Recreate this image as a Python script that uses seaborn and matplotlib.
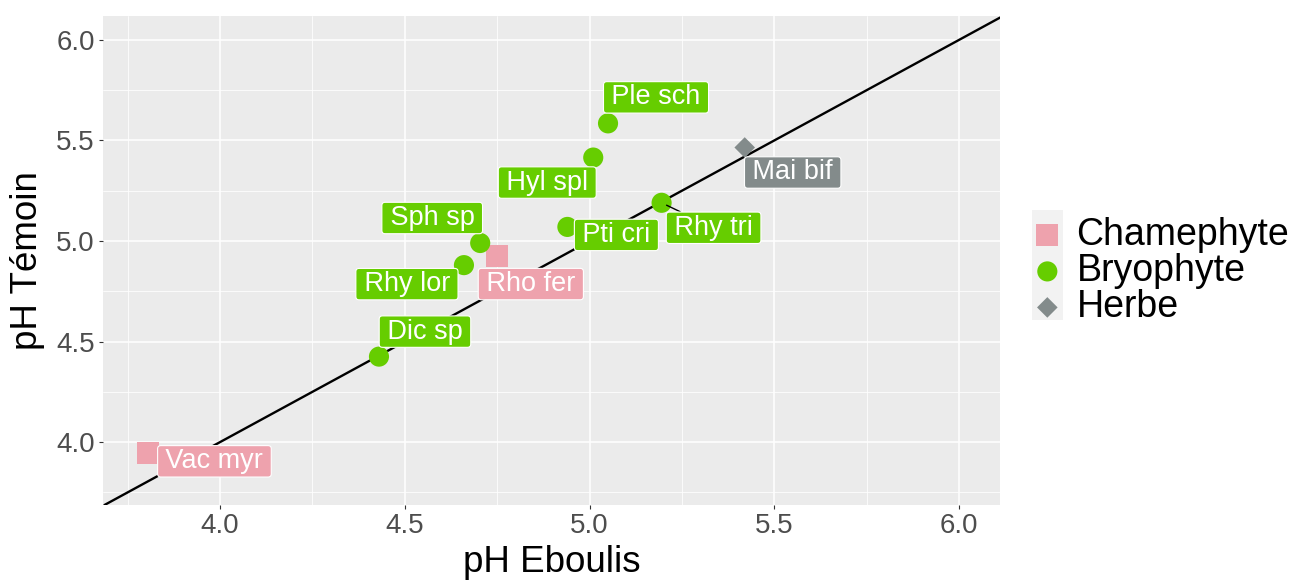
import numpy as np
import pandas as pd
import matplotlib
matplotlib.use("Agg")
import matplotlib.pyplot as plt
import matplotlib.patches as patches
from matplotlib.ticker import MultipleLocator
import seaborn as sns

# data
species = ["Vac myr", "Rho fer", "Dic sp", "Rhy lor", "Sph sp", "Pti cri",
           "Hyl spl", "Ple sch", "Rhy tri", "Mai bif"]
groups = ["Chamephyte", "Chamephyte", "Bryophyte", "Bryophyte", "Bryophyte",
          "Bryophyte", "Bryophyte", "Bryophyte", "Bryophyte", "Herbe"]
ph_eboulis = [3.806, 4.749, 4.430, 4.660, 4.704, 4.940, 5.010, 5.050, 5.195, 5.420]
ph_temoin = [3.944, 4.925, 4.425, 4.880, 4.990, 5.070, 5.415, 5.585, 5.190, 5.465]

df = pd.DataFrame({"species": species, "group": groups,
                   "x": ph_eboulis, "y": ph_temoin})

# styling / layout
colors = {"Chamephyte": "#EEA2AD", "Bryophyte": "#66CD00", "Herbe": "#838B8B"}
markers = {"Chamephyte": "s", "Bryophyte": "o", "Herbe": "D"}
sizes = {"Chamephyte": 250, "Bryophyte": 210, "Herbe": 110}
# label offsets in pixels (repel-like placement)
label_offsets = {"Vac myr": (66, -8), "Rho fer": (34, -28), "Dic sp": (46, 25),
                 "Rhy lor": (-57, -19), "Sph sp": (-48, 25), "Pti cri": (49, -8),
                 "Hyl spl": (-46, -25), "Ple sch": (48, 26), "Rhy tri": (52, -25),
                 "Mai bif": (48, -25)}
with_segment = ["Rhy tri"]

sns.set_theme(style="darkgrid")
plt.rcParams["font.family"] = ["Liberation Sans", "DejaVu Sans"]

fig = plt.figure(figsize=(12.95, 5.81), dpi=100)
ax = fig.add_axes([103 / 1295, 1 - 505 / 581, 897 / 1295, 489 / 581])
ax.set_facecolor("#EBEBEB")

ax.axline((4.0, 4.0), slope=1, color="black", lw=1.7, zorder=2)

for g in ["Chamephyte", "Bryophyte", "Herbe"]:
    sub = df[df["group"] == g]
    sns.scatterplot(data=sub, x="x", y="y", ax=ax, color=colors[g],
                    marker=markers[g], s=sizes[g], edgecolor="none",
                    label=g, zorder=3)

thin = "\u2009"
for _, row in df.iterrows():
    arrow = None
    if row["species"] in with_segment:
        arrow = dict(arrowstyle="-", color="black", lw=1.0, shrinkA=0, shrinkB=4)
    ax.annotate(thin + row["species"] + thin, xy=(row["x"], row["y"]),
                xytext=label_offsets[row["species"]], textcoords="offset pixels",
                ha="center", va="center", color="white", fontsize=19.5, zorder=4,
                arrowprops=arrow,
                bbox=dict(boxstyle="round,pad=0.1,rounding_size=0.12",
                          fc=colors[row["group"]], ec="white", lw=0.8))

ax.set_xlim(3.683, 6.111)
ax.set_ylim(3.687, 6.119)
ax.xaxis.set_major_locator(MultipleLocator(0.5))
ax.yaxis.set_major_locator(MultipleLocator(0.5))
ax.xaxis.set_minor_locator(MultipleLocator(0.25))
ax.yaxis.set_minor_locator(MultipleLocator(0.25))
ax.xaxis.set_major_formatter(matplotlib.ticker.FormatStrFormatter("%.1f"))
ax.yaxis.set_major_formatter(matplotlib.ticker.FormatStrFormatter("%.1f"))
ax.grid(which="major", color="white", lw=1.1)
ax.grid(which="minor", color="white", lw=0.55)
ax.set_axisbelow(True)
for sp in ax.spines.values():
    sp.set_visible(False)
ax.tick_params(which="major", length=3, width=0.8, color="#333333",
               labelsize=20, labelcolor="#4D4D4D", pad=3,
               bottom=True, left=True)
ax.tick_params(which="minor", length=0)

ax.set_xlabel("pH Eboulis", fontsize=26.5, color="black", labelpad=4)
ax.set_ylabel("pH Témoin", fontsize=26.5, color="black", labelpad=8)

# legend key background like ggplot
fig.patches.append(patches.Rectangle((1032 / 1295, 1 - 320 / 581), 31 / 1295, 110 / 581,
                                     transform=fig.transFigure, fc="#F2F2F2",
                                     ec="none", zorder=-1))
handles, labels = ax.get_legend_handles_labels()
leg = ax.legend(handles, labels, loc="center left", bbox_to_anchor=(1.012, 0.478),
                frameon=False, fontsize=27, handletextpad=0.2, labelspacing=0.0,
                borderaxespad=0, handlelength=1.15)
for t in leg.get_texts():
    t.set_color("black")

fig.savefig("out.png", dpi=100)
